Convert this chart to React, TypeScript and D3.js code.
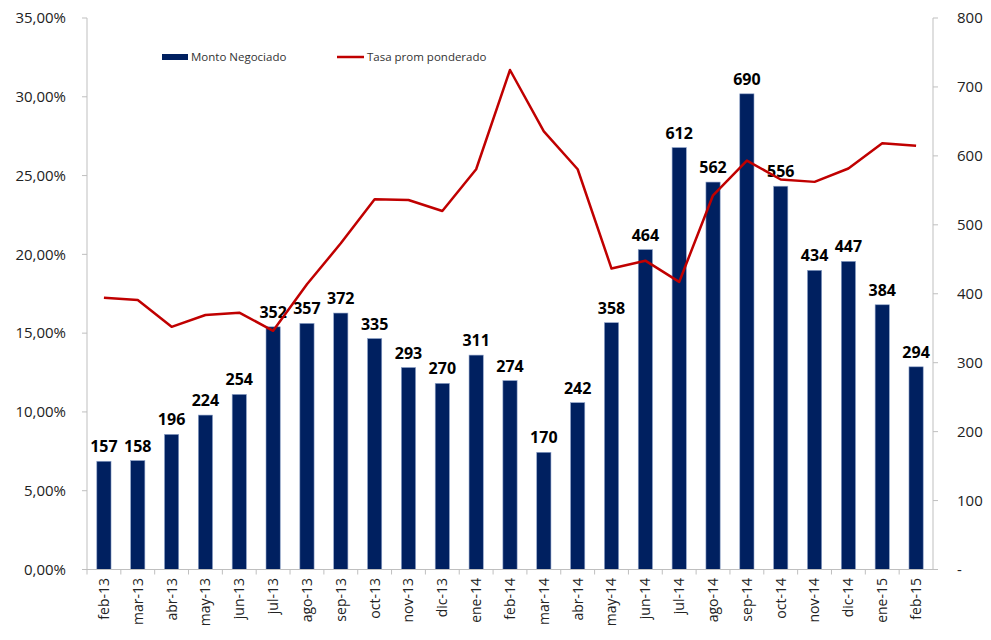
import React from "react";
import * as d3 from "d3";

const categories = ["feb-13","mar-13","abr-13","may-13","jun-13","jul-13","ago-13","sep-13","oct-13","nov-13","dic-13","ene-14","feb-14","mar-14","abr-14","may-14","jun-14","jul-14","ago-14","sep-14","oct-14","nov-14","dic-14","ene-15","feb-15"];
const montoNegociado = [157,158,196,224,254,352,357,372,335,293,270,311,274,170,242,358,464,612,562,690,556,434,447,384,294];
const tasaPromPonderado = [17.25,17.1,15.4,16.15,16.3,15.15,18.1,20.7,23.5,23.45,22.75,25.4,31.7,27.8,25.4,19.1,19.6,18.25,23.75,25.95,24.75,24.6,25.45,27.05,26.9];
const leftTicks = [0,5,10,15,20,25,30,35];
const rightTicks = [0,100,200,300,400,500,600,700,800];

const W = 991, H = 640;
const left = 87, right = 933, top = 18, bottom = 569.5;
const font = "'Open Sans', 'Noto Sans', sans-serif";

export default function App() {
  const x = d3.scaleBand<string>().domain(categories).range([left, right]).paddingInner(0.58).paddingOuter(0.29);
  const xb = d3.scaleBand<string>().domain(categories).range([left, right]);
  const yL = d3.scaleLinear().domain([0, 35]).range([bottom, top]);
  const yR = d3.scaleLinear().domain([0, 800]).range([bottom, top]);
  const line = d3.line<number>().x((_, i) => (xb(categories[i]) as number) + xb.bandwidth() / 2).y(d => yL(d));
  const fmtL = (v: number) => v.toFixed(2).replace(".", ",") + "%";
  const axisColor = "#bfbfbf";
  return (
    <svg width={W} height={H} style={{ position: "absolute", left: 0, top: 0, background: "#fff" }} fontFamily={font}>
      {montoNegociado.map((v, i) => (
        <rect key={i} x={x(categories[i])} y={yR(v)} width={x.bandwidth()} height={bottom - yR(v)} fill="#002060" stroke="#8ea2c8" strokeWidth={0.6} />
      ))}
      {montoNegociado.map((v, i) => (
        <text key={"l" + i} x={(x(categories[i]) as number) + x.bandwidth() / 2} y={yR(v) - 9} textAnchor="middle" fontSize={16} fontWeight="bold" fill="#000">{v}</text>
      ))}
      <path d={line(tasaPromPonderado) || ""} fill="none" stroke="#c00000" strokeWidth={2.5} strokeLinejoin="round" />
      <line x1={left} x2={left} y1={top} y2={bottom} stroke={axisColor} />
      <line x1={right} x2={right} y1={top} y2={bottom} stroke={axisColor} />
      <line x1={left - 5} x2={right + 5} y1={bottom} y2={bottom} stroke={axisColor} />
      {leftTicks.map(t => (
        <g key={"lt" + t}>
          <line x1={left - 5} x2={left} y1={yL(t)} y2={yL(t)} stroke={axisColor} />
          <text x={66} y={yL(t)} dy="0.35em" textAnchor="end" fontSize={15} fill="#222">{fmtL(t)}</text>
        </g>
      ))}
      {rightTicks.map(t => (
        <g key={"rt" + t}>
          <line x1={right} x2={right + 5} y1={yR(t)} y2={yR(t)} stroke={axisColor} />
          <text x={957} y={yR(t)} dy="0.35em" textAnchor="start" fontSize={15} fill="#222">{t === 0 ? "-" : t}</text>
        </g>
      ))}
      {categories.map((c, i) => (
        <line key={"xt" + i} x1={xb(c) as number} x2={xb(c) as number} y1={bottom} y2={bottom + 5} stroke={axisColor} />
      ))}
      {categories.map((c) => {
        const cx = (xb(c) as number) + xb.bandwidth() / 2;
        return (
          <text key={"xl" + c} transform={`translate(${cx},578) rotate(-90)`} dy="0.35em" textAnchor="end" fontSize={14} fill="#222">{c}</text>
        );
      })}
      <rect x={162} y={54} width={26} height={6} fill="#002060" />
      <text x={191} y={57} dy="0.35em" fontSize={11.5} fill="#333">Monto Negociado</text>
      <line x1={337} x2={364} y1={57} y2={57} stroke="#c00000" strokeWidth={2.5} />
      <text x={367} y={57} dy="0.35em" fontSize={11.5} fill="#333">Tasa prom ponderado</text>
    </svg>
  );
}
